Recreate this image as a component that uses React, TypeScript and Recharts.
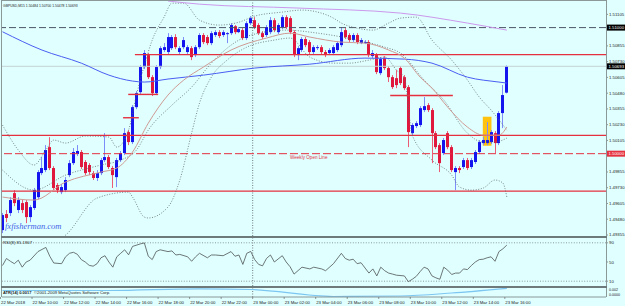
import React from "react";
import {
  ComposedChart,
  Bar,
  Line,
  XAxis,
  YAxis,
  ReferenceLine,
  ReferenceArea,
} from "recharts";

const FONT = "'Liberation Sans', Arial, sans-serif";
const BG = "#E0FFFF";
const BULL = "#1414EE";
const BEAR = "#E0183E";
const BULL_WICK = "#7C8CF8";
const BEAR_WICK = "#EC5C74";
const RED = "#E5313F";
const FRAME = "#8A9898";

// GBPUSD M15, bar 0 = 22 Mar 08:00
const opens = [
  1.49394, 1.49521, 1.49529, 1.49687, 1.49553, 1.49608, 1.49616, 1.49497, 1.49569, 1.49655,
  1.49846, 1.4987, 1.50052, 1.49886, 1.49751, 1.49695, 1.49711, 1.4983, 1.49925, 1.49997,
  1.50013, 1.49934, 1.4991, 1.49846, 1.49807, 1.49846, 1.49949, 1.49973, 1.49886, 1.49814,
  1.49949, 1.50005, 1.50171, 1.50092, 1.50369, 1.50488, 1.50687, 1.50782, 1.50607, 1.5048,
  1.50687, 1.50822, 1.50806, 1.50837, 1.50925, 1.50806, 1.50845, 1.50806, 1.50837, 1.50782,
  1.50845, 1.50941, 1.50925, 1.50877, 1.50941, 1.50964, 1.50941, 1.50948, 1.50956, 1.51011,
  1.50964, 1.5098, 1.50917, 1.51035, 1.51059, 1.5102, 1.50956, 1.50941, 1.50964, 1.51059,
  1.50964, 1.51004, 1.51083, 1.51075, 1.50964, 1.50782, 1.50822, 1.50909, 1.50885, 1.50806,
  1.50837, 1.50845, 1.50806, 1.50798, 1.50798, 1.50822, 1.50861, 1.5098, 1.50941, 1.50901,
  1.50941, 1.50877, 1.50877, 1.50885, 1.50774, 1.50782, 1.50639, 1.50758, 1.50679, 1.50607,
  1.50599, 1.50679, 1.50607, 1.50528, 1.50163, 1.50219, 1.50227, 1.50346, 1.50385, 1.50346,
  1.50163, 1.50068, 1.50005, 1.50163, 1.50052, 1.49854, 1.49886, 1.49894, 1.49949, 1.49894,
  1.49934, 1.50013, 1.50084, 1.50084, 1.50092, 1.50163, 1.50084, 1.50322, 1.50484,
];
const highs = [
  1.49529, 1.49553, 1.49655, 1.49711, 1.49655, 1.49632, 1.49632, 1.49592, 1.49728, 1.4987,
  1.49973, 1.50068, 1.50131, 1.49901, 1.49767, 1.49759, 1.49814, 1.49949, 1.50045, 1.50068,
  1.50029, 1.49949, 1.49925, 1.49862, 1.4987, 1.49966, 1.50163, 1.49989, 1.49901, 1.49966,
  1.50021, 1.50203, 1.50187, 1.50385, 1.50496, 1.50702, 1.50822, 1.50798, 1.50623, 1.50702,
  1.50853, 1.50877, 1.50956, 1.50941, 1.50948, 1.50853, 1.50925, 1.50861, 1.50853, 1.50861,
  1.50956, 1.50956, 1.50941, 1.50972, 1.5098, 1.5098, 1.5098, 1.50964, 1.51035, 1.5102,
  1.51004, 1.50996, 1.51051, 1.51091, 1.51083, 1.51035, 1.50972, 1.5102, 1.51083, 1.51075,
  1.51035, 1.51099, 1.51099, 1.51091, 1.5098, 1.50853, 1.50925, 1.50925, 1.50901, 1.50861,
  1.50861, 1.50861, 1.50822, 1.50837, 1.50861, 1.50893, 1.51004, 1.50996, 1.50956, 1.50956,
  1.50956, 1.50917, 1.50901, 1.50901, 1.50822, 1.50798, 1.50766, 1.50774, 1.50695, 1.50623,
  1.50663, 1.50695, 1.50623, 1.50544, 1.50242, 1.50258, 1.50377, 1.50449, 1.50401, 1.50361,
  1.50179, 1.50084, 1.50124, 1.50179, 1.50068, 1.49901, 1.49901, 1.49966, 1.49966, 1.49966,
  1.50029, 1.50108, 1.50132, 1.5025, 1.50187, 1.50179, 1.50338, 1.50544, 1.507,
];
const lows = [
  1.4937, 1.49457, 1.49505, 1.49584, 1.49529, 1.49529, 1.49449, 1.49457, 1.49553, 1.4964,
  1.4983, 1.49854, 1.4987, 1.49711, 1.49687, 1.49679, 1.49695, 1.49814, 1.4991, 1.49981,
  1.49878, 1.4983, 1.4983, 1.49791, 1.49783, 1.4983, 1.49934, 1.49878, 1.49728, 1.49735,
  1.49934, 1.49989, 1.50068, 1.50076, 1.50353, 1.50472, 1.50671, 1.50592, 1.50457, 1.50465,
  1.50671, 1.50806, 1.5079, 1.50822, 1.50829, 1.5079, 1.50829, 1.5079, 1.50742, 1.50766,
  1.50829, 1.50869, 1.50861, 1.50861, 1.50925, 1.50917, 1.50925, 1.50877, 1.50941, 1.50948,
  1.50956, 1.50901, 1.50901, 1.5102, 1.50988, 1.50941, 1.50909, 1.50925, 1.50948, 1.50964,
  1.50948, 1.50988, 1.50988, 1.50948, 1.50766, 1.50742, 1.50806, 1.50845, 1.5079, 1.5079,
  1.50822, 1.5079, 1.50766, 1.50782, 1.50782, 1.50806, 1.50845, 1.50909, 1.50885, 1.50885,
  1.50869, 1.50869, 1.50869, 1.50766, 1.50758, 1.50631, 1.50623, 1.50663, 1.50568, 1.50513,
  1.5052, 1.50544, 1.50504, 1.50052, 1.50139, 1.50203, 1.50211, 1.5033, 1.5033, 1.49925,
  1.50036, 1.49854, 1.49989, 1.50036, 1.49854, 1.49711, 1.49846, 1.49878, 1.4987, 1.49878,
  1.49918, 1.49997, 1.50068, 1.50068, 1.50076, 1.50005, 1.50068, 1.50203, 1.50478,
];
const closes = [
  1.49513, 1.4949, 1.49632, 1.49608, 1.49632, 1.49553, 1.49497, 1.49576, 1.49711, 1.49854,
  1.49886, 1.50029, 1.49886, 1.49728, 1.49711, 1.49735, 1.49791, 1.49925, 1.50013, 1.50021,
  1.49894, 1.49846, 1.49854, 1.49807, 1.49846, 1.49949, 1.49973, 1.49894, 1.4983, 1.49949,
  1.50005, 1.50163, 1.50092, 1.50369, 1.5048, 1.50687, 1.50798, 1.50607, 1.5048, 1.50687,
  1.50837, 1.50845, 1.50925, 1.50925, 1.50845, 1.50837, 1.50901, 1.50845, 1.50766, 1.50845,
  1.50941, 1.50885, 1.50877, 1.50956, 1.50964, 1.50933, 1.50964, 1.50956, 1.5102, 1.50964,
  1.50988, 1.50917, 1.51035, 1.51075, 1.51004, 1.50956, 1.50925, 1.51004, 1.51059, 1.5098,
  1.5102, 1.51083, 1.51004, 1.50964, 1.50782, 1.50837, 1.50909, 1.50861, 1.50806, 1.50845,
  1.50845, 1.50806, 1.50782, 1.50822, 1.50845, 1.50877, 1.50964, 1.50925, 1.50901, 1.50941,
  1.50885, 1.50901, 1.50885, 1.50782, 1.50798, 1.50647, 1.5075, 1.50679, 1.50607, 1.50528,
  1.50544, 1.5056, 1.5052, 1.50171, 1.50227, 1.50242, 1.50361, 1.50377, 1.50346, 1.50163,
  1.50052, 1.49925, 1.50108, 1.50052, 1.4987, 1.49886, 1.4987, 1.49949, 1.49886, 1.49949,
  1.50013, 1.50092, 1.50108, 1.50108, 1.50171, 1.50084, 1.50322, 1.50465, 1.50693,
];

// indicator readings: bar index -> value
const blueMaBars = [0, 10, 20, 27, 33, 36, 42, 51, 64, 78, 92, 102, 109, 118, 126, 128];
const blueMaPrices = [
  1.50967, 1.50822, 1.50718, 1.50623, 1.50576, 1.50568, 1.50592, 1.50623, 1.50679, 1.5071,
  1.50758, 1.5075, 1.50718, 1.50607, 1.50568, 1.5056,
];
const violetMaBars = [42, 50, 75, 101, 118, 128];
const violetMaPrices = [1.51211, 1.51186, 1.51155, 1.51115, 1.51036, 1.5098];
const rosyMaBars = [0, 8, 16, 25, 29, 33, 37, 42, 46, 51, 58, 67, 73, 78, 86, 92, 98, 102, 106, 109, 113, 118, 122, 126, 128];
const rosyMaPrices = [
  1.49656, 1.49632, 1.49775, 1.49854, 1.49886, 1.50013, 1.50242, 1.50465, 1.50584, 1.50687,
  1.50822, 1.50917, 1.50956, 1.50925, 1.50885, 1.50877, 1.50822, 1.50758, 1.50607, 1.5052,
  1.50369, 1.50211, 1.50147, 1.50147, 1.50211,
];
const bbUpperBars = [0, 4, 8, 11, 13, 16, 21, 27, 29, 32, 34, 36, 38, 41, 43, 46, 50, 55, 60, 64, 71, 76, 80, 84, 86, 90, 94, 98, 101, 105, 109, 114, 118, 121, 124, 128];
const bbUpperPrices = [
  1.50227, 1.50029, 1.4991, 1.50029, 1.50108, 1.50084, 1.5014, 1.50132, 1.50052, 1.50187,
  1.50465, 1.50702, 1.50901, 1.51083, 1.51194, 1.51194, 1.51059, 1.5102, 1.51043, 1.51091,
  1.51123, 1.51139, 1.51123, 1.51075, 1.51036, 1.50996, 1.5098, 1.51036, 1.51075, 1.51083,
  1.50901, 1.50742, 1.50584, 1.50449, 1.50346, 1.50187,
];
const bbMidBars = [0, 8, 16, 25, 30, 34, 37, 43, 48, 53, 60, 65, 72, 80, 90, 97, 101, 107, 112, 118, 122, 125, 128];
const bbMidPrices = [
  1.4987, 1.49711, 1.4983, 1.4991, 1.49949, 1.50029, 1.50187, 1.50385, 1.50528, 1.50718,
  1.50901, 1.50956, 1.5098, 1.50956, 1.50901, 1.50845, 1.50798, 1.50584, 1.50425, 1.50163,
  1.50092, 1.50092, 1.50124,
];
const bbLowerBars = [8, 16, 24, 32, 33, 36, 37, 42, 45, 48, 50, 53, 57, 62, 69, 73, 78, 84, 88, 93, 97, 100, 102, 104, 109, 114, 116, 119, 122, 125, 127, 128];
const bbLowerPrices = [
  1.4925, 1.49354, 1.49648, 1.49695, 1.49656, 1.49497, 1.4949, 1.49577, 1.49791, 1.50163,
  1.50401, 1.50607, 1.50742, 1.50845, 1.50901, 1.50917, 1.50766, 1.50718, 1.50718, 1.50742,
  1.50766, 1.50663, 1.50599, 1.50147, 1.49949, 1.4983, 1.49735, 1.49711, 1.49727, 1.49791,
  1.49767, 1.49656,
];
const rsiBars = [
  0, 1, 2, 3, 4, 5, 6, 7, 9, 11, 12, 13, 15, 16, 17, 18, 19, 20, 21, 22, 23, 24, 25, 26, 27,
  28, 29, 30, 31, 32, 33, 35, 36, 37, 38, 39, 40, 42, 43, 44, 45, 47, 48, 49, 50, 52, 53, 54,
  56, 58, 59, 60, 61, 62, 63, 64, 65, 66, 67, 68, 69, 71, 72, 73, 74, 76, 78, 79, 81, 82, 84,
  86, 87, 88, 89, 90, 91, 93, 94, 95, 96, 97, 98, 99, 100, 102, 103, 104, 105, 106, 107, 108,
  109, 110, 111, 112, 113, 114, 115, 116, 117, 118, 119, 120, 121, 122, 123, 124, 125, 126,
  127, 128,
];
const rsiValues = [
  42.7, 57.3, 51.5, 46.5, 53.8, 39.2, 50.0, 53.8, 71.7, 80.4, 62.0, 47.9, 46.5, 60.8, 68.1,
  70.2, 66.0, 55.0, 50.0, 43.0, 41.3, 46.5, 58.8, 63.1, 50.0, 39.2, 60.8, 68.1, 75.4, 65.0,
  82.5, 87.7, 89.8, 62.0, 55.0, 71.7, 75.4, 71.7, 73.1, 64.6, 65.8, 60.8, 51.5, 60.8, 68.1,
  58.8, 64.6, 64.6, 63.1, 71.7, 62.0, 64.6, 45.0, 68.1, 72.0, 55.0, 45.0, 42.0, 57.3, 64.6,
  50.0, 63.1, 50.0, 40.0, 24.8, 39.2, 35.6, 39.2, 35.6, 31.9, 46.5, 68.1, 57.3, 53.8, 55.8,
  46.5, 48.5, 26.9, 35.6, 21.0, 39.2, 31.9, 26.9, 24.8, 22.5, 21.0, 9.0, 14.0, 20.0, 30.0,
  39.2, 35.6, 21.0, 17.0, 14.0, 39.2, 33.0, 24.0, 26.9, 26.9, 35.6, 34.2, 42.7, 50.0, 55.0,
  55.8, 58.8, 60.8, 51.5, 71.7, 77.5, 85.19,
];
const oscBars = [0, 27, 50, 63, 84, 101, 114, 128];
const oscValues = [0.00152, 0.00152, 0.00191, 0.00175, 0.00012, 0.00023, 0.00093, 0.00203];

const timeTickBars = [0, 8, 16, 24, 32, 40, 48, 56, 64, 72, 80, 88, 96, 104, 112, 120, 128];
const timeLabels = [
  "22 Mar 2018", "22 Mar 10:00", "22 Mar 12:00", "22 Mar 14:00", "22 Mar 16:00",
  "22 Mar 18:00", "22 Mar 20:00", "22 Mar 22:00", "23 Mar 00:00", "23 Mar 02:00",
  "23 Mar 04:00", "23 Mar 06:00", "23 Mar 08:00", "23 Mar 10:00", "23 Mar 12:00",
  "23 Mar 14:00", "23 Mar 16:00",
];
// 1.50980 and 1.49980 sit under the price tags
const priceTicks = [
  1.51105, 1.50855, 1.5073, 1.50605, 1.5048, 1.50355, 1.5023, 1.50105,
  1.49855, 1.4973, 1.49605, 1.4948, 1.49355,
];
const rsiTicks = [90, 50, 10];

const roundLevel = 1.51;
const bidPrice = 1.50693;
const weeklyOpen = 1.5;
const supportLevels = [1.50145, 1.49703];
const resistance = { price: 1.50786, fromBar: 33.6 };
const shortLevels = [
  { price: 1.5047, from: 31.9, to: 39.5 },
  { price: 1.50285, from: 30.6, to: 34.6 },
  { price: 1.50461, from: 98.4, to: 114.3 },
];
const zone = { from: 121.9, to: 124.1, low: 1.50063, high: 1.50293 };
const daySplitBar = 63.5;

const X_DOMAIN: [number, number] = [-0.13, 153.17];
const PRICE_DOMAIN: [number, number] = [1.49347, 1.51211];

const candles = opens.map((o, i) => ({ i, o, h: highs[i], l: lows[i], c: closes[i] }));
const series = (bars: number[], vals: number[]) => bars.map((i, k) => ({ i, v: vals[k] }));

const Candle = (props: any) => {
  const { x, y, width, height, payload } = props;
  if (!payload || x == null || y == null) return null;
  const top = Math.min(y, y + height);
  const span = Math.abs(height);
  const { o, h, l, c } = payload;
  const k = span / (h - l);
  const cx = Math.round(x + width / 2) + 0.5;
  const up = c >= o;
  const bodyTop = top + (h - Math.max(o, c)) * k;
  const bodyH = Math.max(1, Math.abs(o - c) * k);
  return (
    <g>
      <line x1={cx} x2={cx} y1={top} y2={top + span} stroke={up ? BULL_WICK : BEAR_WICK} strokeWidth={1} />
      <rect x={cx - 1.5} y={bodyTop} width={3} height={bodyH} fill={up ? BULL : BEAR} />
    </g>
  );
};

const PriceTick = (props: any) => {
  const { y, payload } = props;
  return (
    <g>
      <line x1={606} x2={608} y1={y} y2={y} stroke="#555" strokeWidth={0.6} />
      <text x={609} y={y + 1.5} fontSize={4.3} fill="#222" fontFamily={FONT}>
        {payload.value.toFixed(5)}
      </text>
    </g>
  );
};

const RsiTick = (props: any) => {
  const { y, payload } = props;
  return (
    <g>
      <line x1={606} x2={608} y1={y} y2={y} stroke="#555" strokeWidth={0.6} />
      <text x={609} y={y + 1.5} fontSize={4.3} fill="#222" fontFamily={FONT}>
        {payload.value}
      </text>
    </g>
  );
};

const TimeTick = (props: any) => {
  const { x, index } = props;
  const tx = x - 2;
  return (
    <g>
      <line x1={tx} x2={tx} y1={9} y2={11} stroke="#555" strokeWidth={0.6} />
      <text x={tx + 0.5} y={15.5} fontSize={4.3} fill="#222" fontFamily={FONT}>
        {timeLabels[index] ?? ""}
      </text>
    </g>
  );
};

const tag = (text: string, bg: string) => (p: any) => {
  const vb = p.viewBox || {};
  const rx = (vb.x ?? 0) + (vb.width ?? 0) + 1;
  return (
    <g>
      <rect x={rx} y={vb.y - 3} width={18} height={6} fill={bg} />
      <text x={rx + 1.5} y={vb.y + 1.6} fontSize={4.3} fill="#fff" fontFamily={FONT}>
        {text}
      </text>
    </g>
  );
};

const weeklyLabel = (p: any) => {
  const vb = p.viewBox || {};
  return (
    <text x={(vb.x ?? 0) + 288} y={(vb.y ?? 0) + 5} fontSize={4.6} fill={RED} fontFamily={FONT}>
      Weekly Open Line
    </text>
  );
};

const dotted = { stroke: "#5f6868", strokeWidth: 0.8, strokeDasharray: "1 1.6" };

export default function App() {
  return (
    <div style={{ position: "fixed", left: 0, top: 0, width: 625, height: 306, background: BG, overflow: "hidden" }}>
      <div style={{ position: "absolute", left: 0, top: 0 }}>
        <ComposedChart width={625} height={237} data={candles} margin={{ top: 1, right: 0, bottom: 1, left: 2 }}>
          <XAxis dataKey="i" type="number" domain={X_DOMAIN} allowDataOverflow hide />
          <YAxis
            orientation="right"
            width={19}
            domain={PRICE_DOMAIN}
            allowDataOverflow
            ticks={priceTicks}
            interval={0}
            axisLine={false}
            tickLine={false}
            tick={(p: any) => <PriceTick {...p} />}
          />
          <ReferenceArea x1={zone.from} x2={zone.to} y1={zone.low} y2={zone.high} fill="#FFC20E" fillOpacity={1} stroke="none" />
          <ReferenceLine x={daySplitBar} stroke="#6f7c7c" strokeDasharray="1 1.5" />
          <ReferenceLine y={bidPrice} stroke="#C4D2D2" strokeWidth={1} label={tag("1.50693", "#000")} />
          <ReferenceLine y={roundLevel} stroke="#4c5566" strokeDasharray="7 3" label={tag("1.51000", "#000")} />
          <ReferenceLine y={weeklyOpen} stroke={RED} strokeDasharray="8 3" strokeWidth={1} label={weeklyLabel} />
          <ReferenceLine y={weeklyOpen} stroke="none" label={tag("1.50000", RED)} />
          {supportLevels.map((p) => (
            <ReferenceLine key={p} y={p} stroke={RED} strokeWidth={1.4} />
          ))}
          <ReferenceLine
            segment={[{ x: resistance.fromBar, y: resistance.price }, { x: X_DOMAIN[1], y: resistance.price }]}
            stroke={RED}
            strokeWidth={1.4}
          />
          {shortLevels.map((s) => (
            <ReferenceLine
              key={s.price}
              segment={[{ x: s.from, y: s.price }, { x: s.to, y: s.price }]}
              stroke={RED}
              strokeWidth={1.4}
            />
          ))}
          <Line data={series(bbUpperBars, bbUpperPrices)} dataKey="v" type="monotone" dot={false} {...dotted} isAnimationActive={false} />
          <Line data={series(bbMidBars, bbMidPrices)} dataKey="v" type="monotone" dot={false} {...dotted} isAnimationActive={false} />
          <Line data={series(bbLowerBars, bbLowerPrices)} dataKey="v" type="monotone" dot={false} {...dotted} isAnimationActive={false} />
          <Line data={series(violetMaBars, violetMaPrices)} dataKey="v" type="monotone" dot={false} stroke="#CC98EC" strokeWidth={1} isAnimationActive={false} />
          <Line data={series(blueMaBars, blueMaPrices)} dataKey="v" type="monotone" dot={false} stroke="#4A5EF2" strokeWidth={1} isAnimationActive={false} />
          <Line data={series(rosyMaBars, rosyMaPrices)} dataKey="v" type="monotone" dot={false} stroke="#CF9A94" strokeWidth={1} isAnimationActive={false} />
          <Bar dataKey={(d: any) => [d.l, d.h]} barSize={3} shape={(p: any) => <Candle {...p} />} isAnimationActive={false} />
        </ComposedChart>
      </div>

      <div style={{ position: "absolute", left: 0, top: 238 }}>
        <ComposedChart width={625} height={48} data={series(rsiBars, rsiValues)} margin={{ top: 0, right: 0, bottom: 0, left: 2 }}>
          <XAxis dataKey="i" type="number" domain={X_DOMAIN} allowDataOverflow hide />
          <YAxis
            orientation="right"
            width={19}
            domain={[0, 100]}
            ticks={rsiTicks}
            interval={0}
            axisLine={false}
            tickLine={false}
            tick={(p: any) => <RsiTick {...p} />}
          />
          <ReferenceLine y={90} stroke="#8C9A9A" strokeDasharray="1 1.6" />
          <ReferenceLine y={10} stroke="#8C9A9A" strokeDasharray="1 1.6" />
          <ReferenceLine x={daySplitBar} stroke="#6f7c7c" strokeDasharray="1 1.5" />
          <Line dataKey="v" type="linear" dot={false} stroke="#4E5454" strokeWidth={0.8} isAnimationActive={false} />
        </ComposedChart>
      </div>

      <div style={{ position: "absolute", left: 0, top: 288 }}>
        <ComposedChart width={625} height={18} data={series(oscBars, oscValues)} margin={{ top: 0, right: 0, bottom: 0, left: 2 }}>
          <XAxis
            dataKey="i"
            type="number"
            domain={X_DOMAIN}
            allowDataOverflow
            height={9}
            ticks={timeTickBars}
            interval={0}
            axisLine={{ stroke: FRAME }}
            tickLine={false}
            tick={(p: any) => <TimeTick {...p} />}
          />
          <YAxis orientation="right" width={19} domain={[0, 0.0021]} allowDataOverflow tick={false} axisLine={false} tickLine={false} />
          <ReferenceLine x={daySplitBar} stroke="#6f7c7c" strokeDasharray="1 1.5" />
          <Line dataKey="v" type="monotone" dot={false} stroke="#7CC6F2" strokeWidth={1.2} isAnimationActive={false} />
        </ComposedChart>
      </div>

      <svg width={625} height={306} style={{ position: "absolute", left: 0, top: 0, pointerEvents: "none" }}>
        <line x1={1.5} x2={1.5} y1={0} y2={297} stroke={FRAME} />
        <line x1={606.5} x2={606.5} y1={0} y2={297} stroke={FRAME} />
        <line x1={1} x2={607} y1={0.5} y2={0.5} stroke={FRAME} />
        <rect x={1} y={236} width={606} height={2} fill="#6E7A7A" />
        <rect x={1} y={286} width={606} height={2} fill="#6E7A7A" />
        <text x={3} y={6.5} fontSize={3.4} fill="#222" fontFamily={FONT}>
          GBPUSD,M15  1.50484 1.50700 1.50478 1.50693
        </text>
        <text x={5} y={229} fontSize={8.5} fontStyle="italic" fill="#3F5FE6" fontFamily="'Liberation Serif', serif">
          fxfisherman.com
        </text>
        <text x={3} y={243.5} fontSize={4.3} fill="#222" fontFamily={FONT}>
          RSI(8) 85.1907
        </text>
        <text x={3} y={293.5} fontSize={4} fontWeight="bold" fill="#222" fontFamily={FONT}>
          ATR(14) 0.0017
        </text>
        <text x={34} y={293.5} fontSize={4.2} fill="#222" fontFamily={FONT}>
          ©2001-2009 MetaQuotes Software Corp.
        </text>
        <text x={609} y={291} fontSize={3.6} fill="#222" fontFamily={FONT}>
          0.002
        </text>
        <text x={609} y={295.5} fontSize={3.6} fill="#222" fontFamily={FONT}>
          0.0000
        </text>
      </svg>
    </div>
  );
}
